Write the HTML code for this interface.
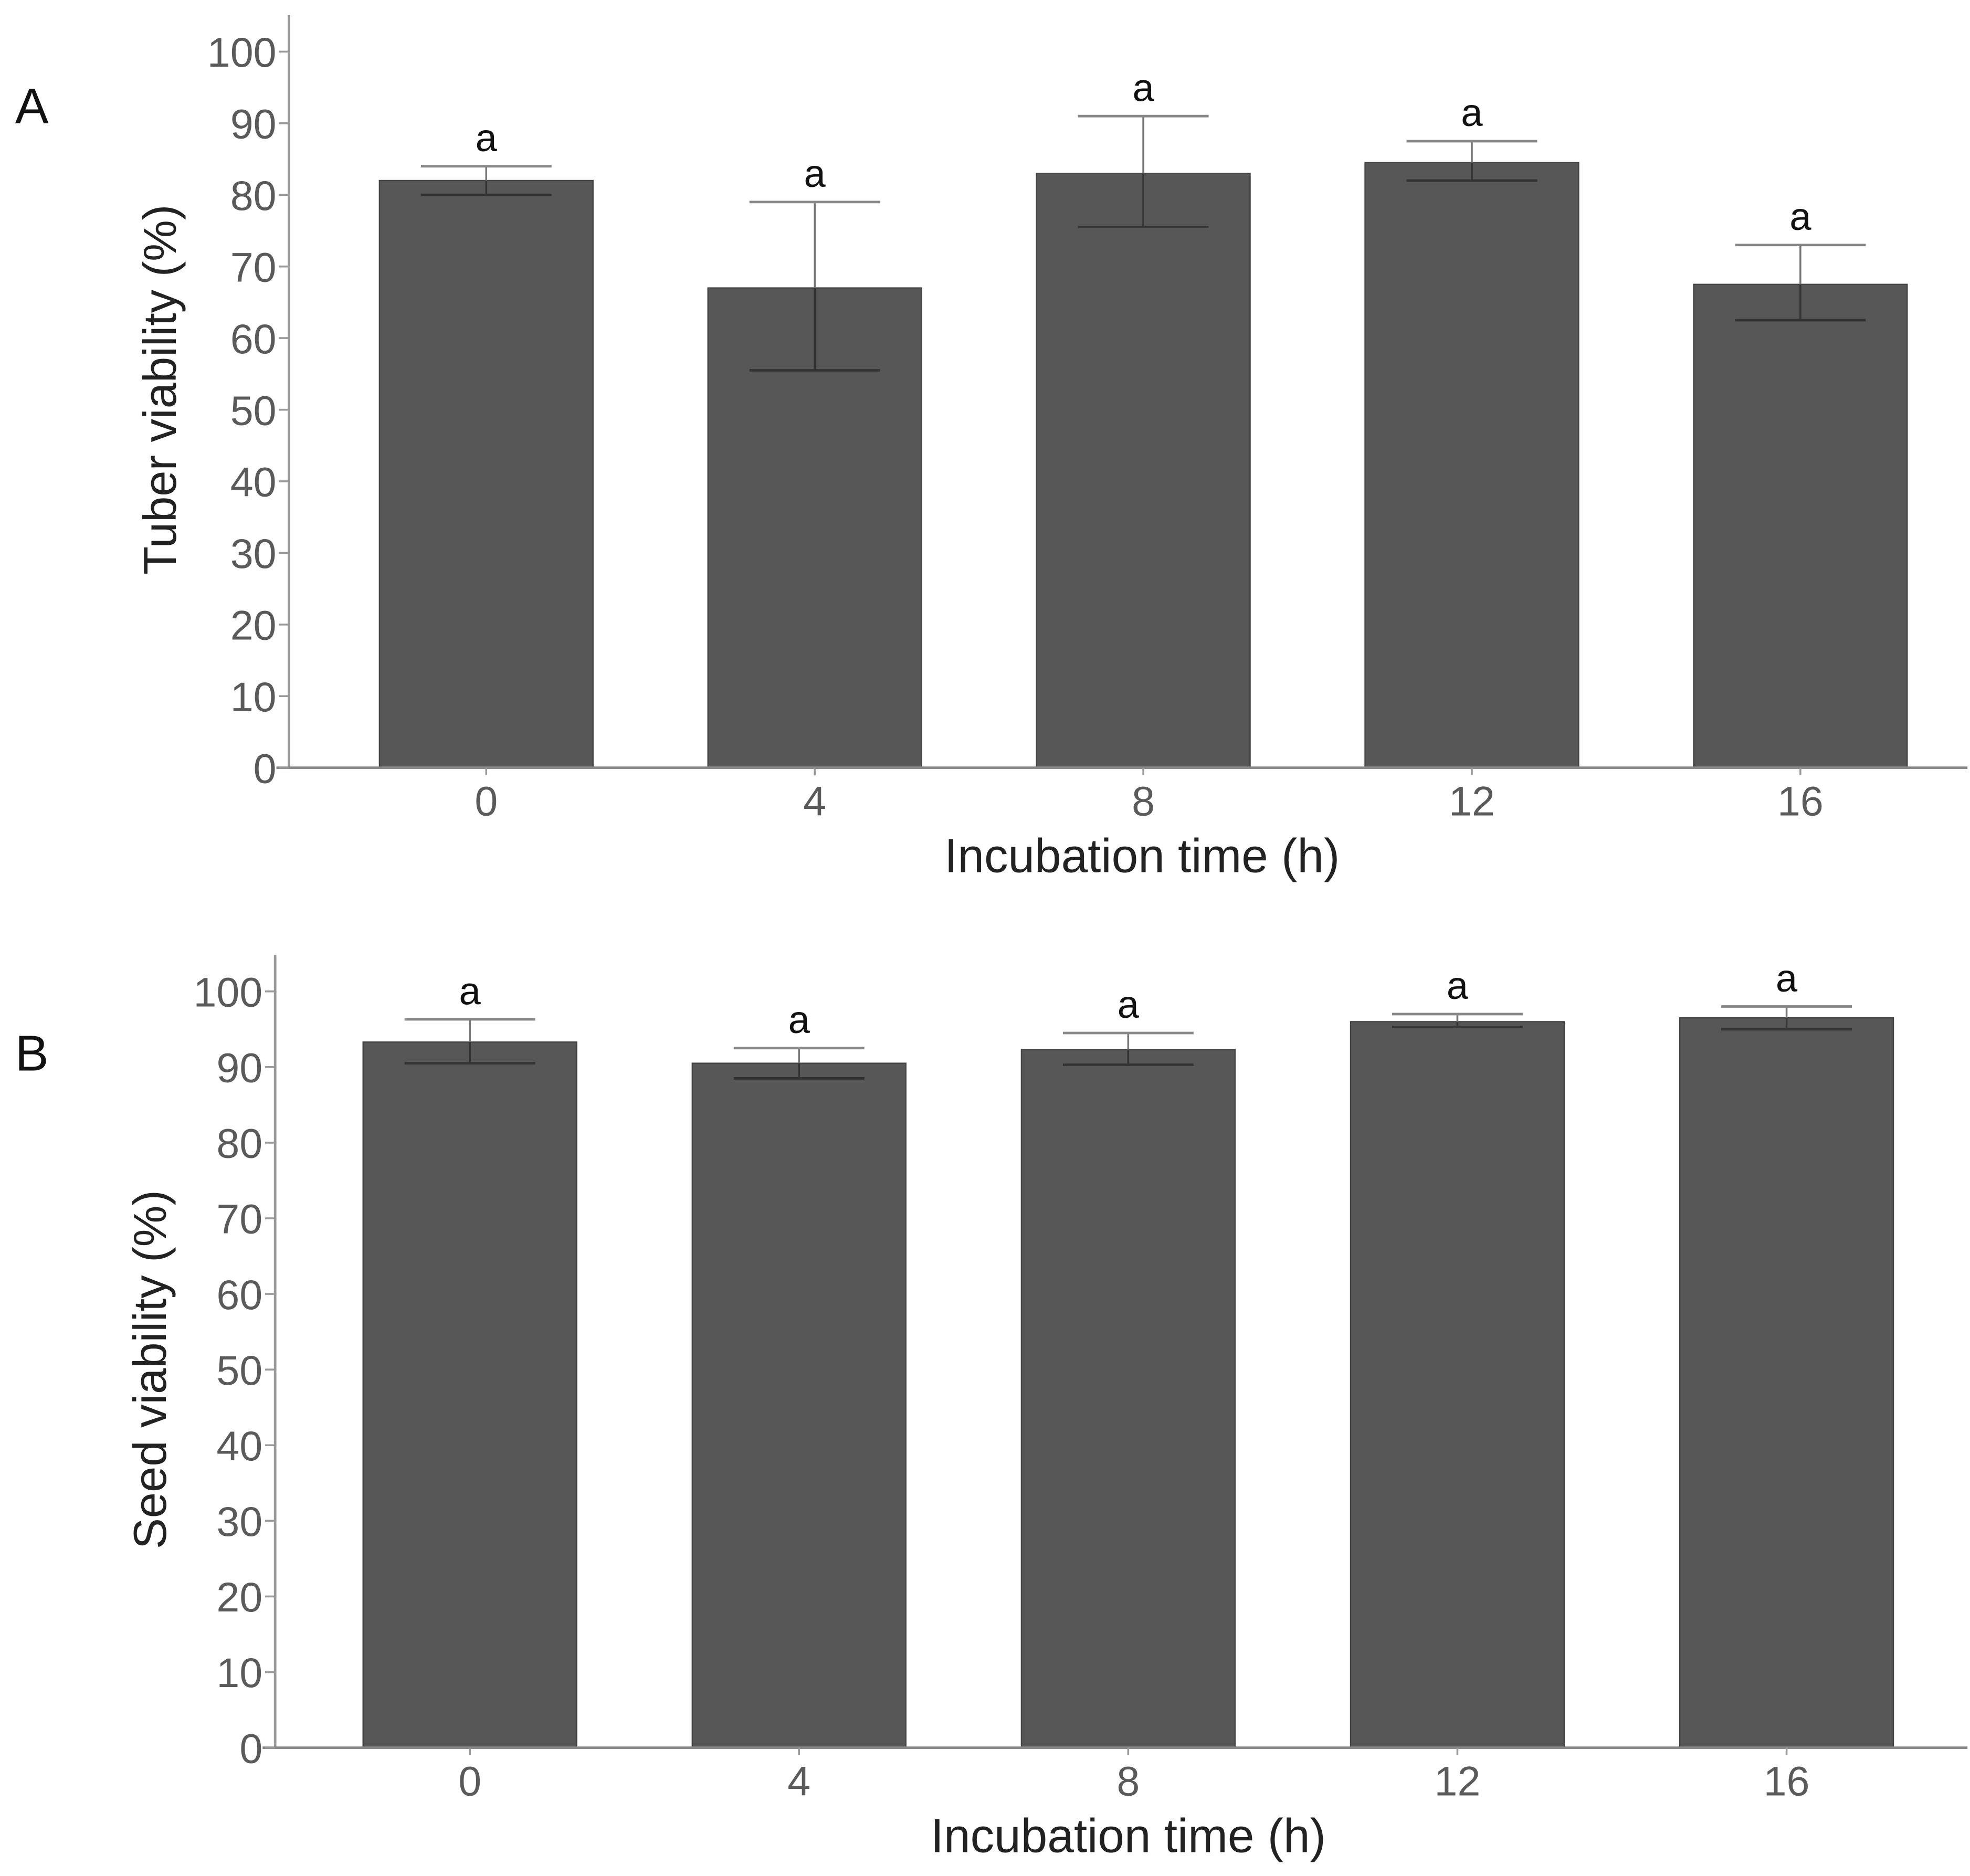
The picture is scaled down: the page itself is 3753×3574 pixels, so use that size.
<!DOCTYPE html>
<html><head><meta charset="utf-8"><style>html,body{margin:0;padding:0;background:#fff}svg{display:block}</style></head>
<body>
<svg id="fig" width="3753" height="3574" viewBox="0 0 1568 1493" xmlns="http://www.w3.org/2000/svg" font-family="Liberation Sans, Arial, sans-serif">
<rect width="1568" height="1493" fill="#fff"/>
</svg>
<script>
const categories = ["0","4","8","12","16"];
const tuberValues = [82, 67, 83, 84.5, 67.5];
const tuberLow = [80, 55.5, 75.5, 82, 62.5];
const tuberHigh = [84, 79, 91, 87.5, 73];
const seedValues = [93.3, 90.5, 92.3, 96, 96.5];
const seedLow = [90.5, 88.5, 90.3, 95.3, 95];
const seedHigh = [96.3, 92.5, 94.5, 97, 98];
const letters = ["a","a","a","a","a"];
const yTicks = [0,10,20,30,40,50,60,70,80,90,100];

const NS = "http://www.w3.org/2000/svg";
const svg = document.getElementById('fig');
function mk(tag, attrs, parent){const e=document.createElementNS(NS,tag);for(const k in attrs)e.setAttribute(k,attrs[k]);(parent||svg).appendChild(e);return e;}

function panel(cfg){
  const g = mk('g',{});
  
  
  const y = v => cfg.y0 - (v/100)*(cfg.y0-cfg.y100);
  const x = i => cfg.c0 + i*cfg.step;
  const lab = mk('text',{x:12,y:cfg.labelY,'font-size':40,fill:'#111'},g); lab.textContent=cfg.letter;
  
  
  cfg.values.forEach((v,i)=>{
    const b = mk('rect',{x:x(i)-85,y:y(v),width:170,height:y(0)-y(v),fill:'#575757',stroke:'#444','stroke-width':1},g);
    
    
  });
  cfg.values.forEach((v,i)=>{
    const eg = mk('g',{},g);
    
    
    const cx=x(i);
    mk('line',{x1:cx,x2:cx,y1:y(cfg.high[i]),y2:y(v),stroke:'#777','stroke-width':1.5},eg);
    mk('line',{x1:cx,x2:cx,y1:y(v),y2:y(cfg.low[i]),stroke:'#333','stroke-width':1.5},eg);
    mk('line',{x1:cx-52,x2:cx+52,y1:y(cfg.high[i]),y2:y(cfg.high[i]),stroke:'#888','stroke-width':2},eg);
    mk('line',{x1:cx-52,x2:cx+52,y1:y(cfg.low[i]),y2:y(cfg.low[i]),stroke:'#333','stroke-width':2},eg);
    const t = mk('text',{x:cx,y:y(cfg.high[i])-12,'font-size':31,'text-anchor':'middle',fill:'#111'},g);
    t.textContent=letters[i];
    
    
  });
  const ax = mk('line',{x1:cfg.ax,x2:cfg.ax,y1:cfg.axTop,y2:cfg.y0,stroke:'#999','stroke-width':2},g);
  
  
  const xa = mk('line',{x1:cfg.ax-10,x2:1566,y1:cfg.y0,y2:cfg.y0,stroke:'#888','stroke-width':2},g);
  
  
  yTicks.forEach(t=>{
    mk('line',{x1:cfg.ax-8,x2:cfg.ax,y1:y(t),y2:y(t),stroke:'#999','stroke-width':1.5},g);
    const tl = mk('text',{x:cfg.ax-10,y:y(t)+12,'font-size':33,'text-anchor':'end',fill:'#5a5a5a'},g);
    tl.textContent=t;
    
    
  });
  categories.forEach((c,i)=>{
    mk('line',{x1:x(i),x2:x(i),y1:cfg.y0,y2:cfg.y0+6,stroke:'#999','stroke-width':1.5},g);
    const tl = mk('text',{x:x(i),y:cfg.y0+38,'font-size':33,'text-anchor':'middle',fill:'#5a5a5a'},g);
    tl.textContent=c;
    
    
  });
  const xt = mk('text',{x:cfg.xtX,y:cfg.y0+83,'font-size':38,'text-anchor':'middle',fill:'#222'},g);
  xt.textContent='Incubation time (h)';
  
  
  const yt = mk('text',{x:0,y:0,'font-size':37,'text-anchor':'middle',fill:'#222',transform:`translate(${cfg.ytX},${cfg.ytY}) rotate(-90)`},g);
  yt.textContent=cfg.ytitle;
  
  
}
panel({name:'panel-a-tuber',letter:'A',labelY:98,values:tuberValues,low:tuberLow,high:tuberHigh,y0:611,y100:41,ax:230,axTop:12,c0:387,step:261.5,xtX:909,ytX:140,ytY:310,ytitle:'Tuber viability (%)'});
panel({name:'panel-b-seed',letter:'B',labelY:852,values:seedValues,low:seedLow,high:seedHigh,y0:1391,y100:789,ax:219,axTop:760,c0:374,step:262,xtX:898,ytX:132,ytY:1090,ytitle:'Seed viability (%)'});
</script>
</body></html>
